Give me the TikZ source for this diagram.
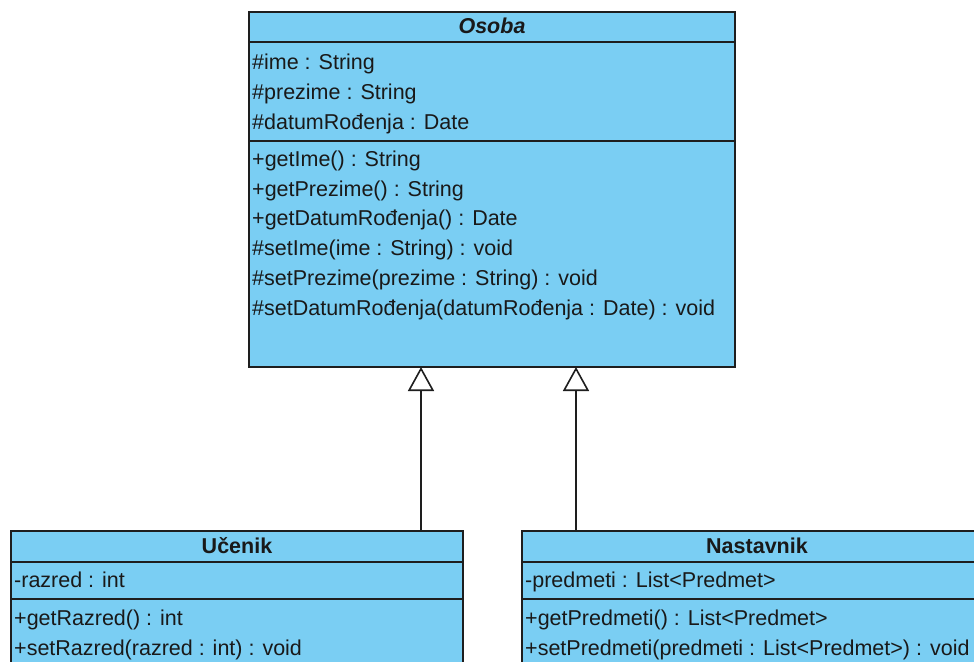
\documentclass[tikz,border=0pt]{standalone}
\usepackage{fontspec}
\setmainfont{Liberation Sans}
\usetikzlibrary{arrows.meta}
\definecolor{clsfill}{RGB}{122,206,243}
\definecolor{clsline}{RGB}{30,30,30}
\definecolor{txt}{RGB}{25,25,25}
\begin{document}
\begin{tikzpicture}[x=1pt,y=-1pt,
  classbox/.style={draw=clsline,fill=clsfill,line width=1.6pt,rectangle,anchor=north west,inner sep=0pt,outer sep=0pt},
  sepline/.style={draw=clsline,line width=1.6pt},
  member/.style={anchor=base west,inner sep=0pt,text=txt,font=\fontsize{21.5}{24}\selectfont},
  title/.style={anchor=base,inner sep=0pt,text=txt,font=\fontsize{21.5}{24}\selectfont\bfseries},
  gen/.style={draw=clsline,line width=1.6pt,-{Triangle[fill=white,length=24pt,width=26pt,line width=1.6pt]}}]
\useasboundingbox (0,0) rectangle (974,661);
\clip (0,0) rectangle (974,661);
\fill[white] (0,0) rectangle (974,661);
% Osoba
\node[classbox,minimum width=486pt,minimum height=355pt] (osoba) at (249,12) {};
\draw[sepline] (osoba.west |- 0,42) -- (osoba.east |- 0,42);
\draw[sepline] (osoba.west |- 0,141) -- (osoba.east |- 0,141);
\node[title,font=\fontsize{21.5}{24}\selectfont\bfseries\itshape] (osobat) at (492,34) {Osoba};
\node[member] (o1) at (252,70) {\#ime : String};
\node[member] (o2) at (252,99.7) {\#prezime : String};
\node[member] (o3) at (252,129.4) {\#datumRođenja : Date};
\node[member] (m1) at (252,166.5) {+getIme() : String};
\node[member] (m2) at (252,196.2) {+getPrezime() : String};
\node[member] (m3) at (252,225.9) {+getDatumRođenja() : Date};
\node[member] (m4) at (252,255.6) {\#setIme(ime : String) : void};
\node[member] (m5) at (252,285.3) {\#setPrezime(prezime : String) : void};
\node[member] (m6) at (252,315) {\#setDatumRođenja(datumRođenja : Date) : void};
% Ucenik
\node[classbox,minimum width=452pt,minimum height=160pt] (ucenik) at (11,531) {};
\draw[sepline] (ucenik.west |- 0,562) -- (ucenik.east |- 0,562);
\draw[sepline] (ucenik.west |- 0,599) -- (ucenik.east |- 0,599);
\node[title] (ucenikt) at (237,553) {Učenik};
\node[member] (u1) at (14,587) {-razred : int};
\node[member] (u2) at (14,625) {+getRazred() : int};
\node[member] (u3) at (14,655) {+setRazred(razred : int) : void};
% Nastavnik
\node[classbox,minimum width=470pt,minimum height=160pt] (nast) at (522,531) {};
\draw[sepline] (nast.west |- 0,562) -- (nast.east |- 0,562);
\draw[sepline] (nast.west |- 0,599) -- (nast.east |- 0,599);
\node[title] (nastt) at (757,553) {Nastavnik};
\node[member] (n1) at (525,587) {-predmeti : List<Predmet>};
\node[member] (n2) at (525,625) {+getPredmeti() : List<Predmet>};
\node[member] (n3) at (525,655) {+setPredmeti(predmeti : List<Predmet>) : void};
% generalizations
\coordinate (a1) at (421,0);
\coordinate (a2) at (576,0);
\draw[gen] (a1 |- ucenik.north) -- (a1 |- osoba.south);
\draw[gen] (a2 |- nast.north) -- (a2 |- osoba.south);
\end{tikzpicture}
\end{document}
